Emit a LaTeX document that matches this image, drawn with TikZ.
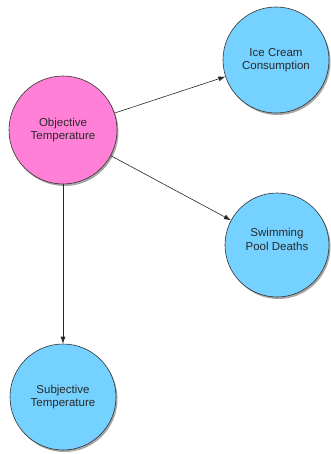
\documentclass[tikz,border=0pt]{standalone}
\usepackage{fontspec}
\setmainfont{Liberation Sans}
\usetikzlibrary{arrows.meta,shadows}
\definecolor{pinkfill}{RGB}{255,128,214}
\definecolor{bluefill}{RGB}{117,209,255}
\definecolor{txt}{RGB}{40,40,40}
\tikzset{
  lbl/.style={align=center, font=\fontsize{11.5}{13.5}\selectfont, text=txt},
  circ/.style={circle, draw=black!80, line width=0.6pt, minimum size=#1, inner sep=0pt,
    lbl,
    drop shadow={shadow xshift=1.5pt, shadow yshift=-2pt, opacity=0.35, fill=black}},
  conn/.style={-{Latex[length=7pt,width=5pt]}, line width=0.6pt, draw=black!85}
}
\begin{document}
\begin{tikzpicture}[x=1pt,y=-1pt]
\useasboundingbox (0,0) rectangle (331,454);
\node[circ=108pt, fill=pinkfill] (obj) at (63,130) {Objective\\Temperature};
\node[circ=106pt, fill=bluefill] (ice) at (276,60) {Ice Cream\\Consumption};
\node[circ=104pt, fill=bluefill, label={[lbl, yshift=5.5pt]center:Swimming\\Pool Deaths}] (swim) at (277,245) {};
\node[circ=106pt, fill=bluefill] (subj) at (63,397) {Subjective\\Temperature};
\draw[conn] (obj) -- (ice);
\draw[conn] (obj) -- (swim);
\draw[conn] (obj) -- (subj);
\end{tikzpicture}
\end{document}
